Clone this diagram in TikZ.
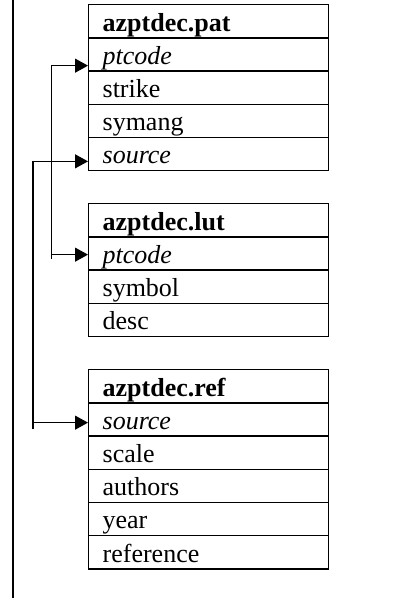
\documentclass[tikz,border=0pt]{standalone}
\usepackage{fontspec}
\setmainfont{Liberation Serif}
\usetikzlibrary{arrows.meta,calc}
\begin{document}
\begin{tikzpicture}[x=1pt,y=-1pt,
  cell/.style={draw,line width=1.3pt,minimum width=240pt,minimum height=33.2pt,
    anchor=north west,inner xsep=14pt,inner ysep=0pt,text width=212pt,align=left,
    font=\fontsize{26}{30}\selectfont,text height=21pt,text depth=1.5pt},
  head/.style={cell,font=\fontsize{26}{30}\selectfont\bfseries},
  key/.style={cell,font=\fontsize{26}{30}\selectfont\itshape},
  conn/.style={line width=1.2pt},
  tip/.style={conn,{Triangle[length=13pt,width=14pt]}-{Triangle[length=13pt,width=14pt]}}]
\useasboundingbox (0,0) rectangle (393,598);
% left rule
\coordinate (r0) at (13,0);
\coordinate (r1) at (13,598);
\draw[line width=1.3pt] (r0) -- (r1);
% table azptdec.pat
\node[head] (p0) at (88,4) {azptdec.pat};
\node[key]  (p1) at (88,37.2) {ptcode};
\node[cell] (p2) at (88,70.4) {strike};
\node[cell] (p3) at (88,103.6) {symang};
\node[key]  (p4) at (88,136.8) {source};
% table azptdec.lut
\node[head] (l0) at (88,203) {azptdec.lut};
\node[key]  (l1) at (88,236.2) {ptcode};
\node[cell] (l2) at (88,269.4) {symbol};
\node[cell] (l3) at (88,302.6) {desc};
% table azptdec.ref
\node[head] (f0) at (88,369) {azptdec.ref};
\node[key]  (f1) at (88,402.2) {source};
\node[cell] (f2) at (88,435.4) {scale};
\node[cell] (f3) at (88,468.6) {authors};
\node[cell] (f4) at (88,501.8) {year};
\node[cell] (f5) at (88,535) {reference};
% connectors
\coordinate (c1) at (51.7,0);
\coordinate (c2) at (33,0);
\coordinate (a1) at ([yshift=-11.2pt]p1.west);
\coordinate (b1) at ([yshift=-1.2pt]l1.west);
\coordinate (a2) at ([yshift=-7.3pt]p4.west);
\coordinate (b2) at ([yshift=-3.2pt]f1.west);
\draw[tip] (a1) -- (a1 -| c1) -- (b1 -| c1) -- (b1);
\draw[tip] (a2) -- (a2 -| c2) -- (b2 -| c2) -- (b2);
\draw[conn] (b1 -| c1) -- ++(0,4);
\draw[conn] (b2 -| c2) -- ++(0,6);
\end{tikzpicture}
\end{document}
